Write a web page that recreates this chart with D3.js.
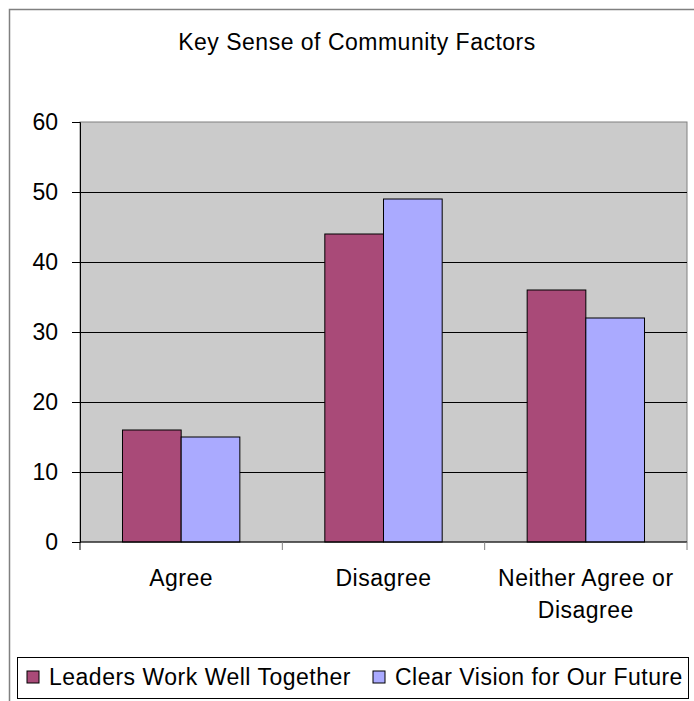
<!DOCTYPE html>
<html>
<head>
<meta charset="utf-8">
<script src="https://cdn.jsdelivr.net/npm/d3@7"></script>
<style>
  body { margin: 0; background: #fff; }
  text { font-family: "Liberation Sans", Arial, sans-serif; fill: #000; }
  .lbl { font-size: 23px; letter-spacing: 0.5px; }
</style>
</head>
<body>
<div id="wrapper"></div>
<script>
const categories = ["Agree", "Disagree", "Neither Agree or Disagree"]
const seriesNames = ["Leaders Work Well Together", "Clear Vision for Our Future"]
const leaders = [16, 44, 36]
const vision = [15, 49, 32]
const yTicks = [0, 10, 20, 30, 40, 50, 60]
const title = "Key Sense of Community Factors"

const colors = ["#a94a78", "#aaaaff"]

let dimensions = {
    width: 694,
    height: 701,
    margin: {
        top: 122,
        right: 7,
        bottom: 159,
        left: 80,
    },
}
dimensions.boundedWidth = dimensions.width
    - dimensions.margin.left
    - dimensions.margin.right
dimensions.boundedHeight = dimensions.height
    - dimensions.margin.top
    - dimensions.margin.bottom

const data = categories.map((c, i) => ({ cat: c, values: [leaders[i], vision[i]] }))

const svg = d3.select("#wrapper")
    .append("svg")
    .attr("width", dimensions.width)
    .attr("height", dimensions.height)

// outer chart border
svg.append("path")
    .attr("d", `M9.5,${dimensions.height} V9.5 H${dimensions.width}`)
    .attr("fill", "none")
    .attr("stroke", "#808080")
    .attr("stroke-width", 1.5)

svg.append("text")
    .attr("class", "lbl")
    .attr("x", 357)
    .attr("y", 50)
    .attr("text-anchor", "middle")
    .text(title)

const bounds = svg.append("g")
    .attr("transform", `translate(${dimensions.margin.left}, ${dimensions.margin.top})`)

const xScale = d3.scaleBand()
    .domain(categories)
    .range([0, dimensions.boundedWidth])

const gap = xScale.bandwidth() * 0.21
const xInner = d3.scaleBand()
    .domain(d3.range(seriesNames.length))
    .range([gap, xScale.bandwidth() - gap])

const yScale = d3.scaleLinear()
    .domain([0, 60])
    .range([dimensions.boundedHeight, 0])

// plot background
bounds.append("rect")
    .attr("width", dimensions.boundedWidth)
    .attr("height", dimensions.boundedHeight)
    .attr("fill", "#cbcbcb")
    .attr("stroke", "#808080")
    .attr("stroke-width", 1)

// gridlines
bounds.append("g")
    .call(d3.axisLeft(yScale).tickValues(yTicks.slice(1, -1)).tickSize(-dimensions.boundedWidth).tickFormat(""))
    .call(g => g.select(".domain").remove())
    .call(g => g.selectAll("line").attr("stroke", "#000"))

// bars
bounds.append("g")
    .selectAll("g")
    .data(data)
    .join("g")
    .attr("transform", d => `translate(${xScale(d.cat)}, 0)`)
    .selectAll("rect")
    .data(d => d.values)
    .join("rect")
    .attr("x", (d, i) => xInner(i))
    .attr("y", d => yScale(d))
    .attr("width", xInner.bandwidth())
    .attr("height", d => dimensions.boundedHeight - yScale(d))
    .attr("fill", (d, i) => colors[i])
    .attr("stroke", "#000")
    .attr("stroke-width", 1)

// y axis
const yAxis = bounds.append("g")
    .call(d3.axisLeft(yScale).tickValues(yTicks).tickSize(8).tickPadding(14))
yAxis.select(".domain").attr("stroke", "#000")
yAxis.selectAll("line").attr("stroke", "#000")
yAxis.selectAll("text")
    .style("font-size", "23px")
    .attr("font-family", null)

// x axis baseline and category ticks
const xAxis = bounds.append("g")
    .attr("transform", `translate(0, ${dimensions.boundedHeight})`)
xAxis.append("line")
    .attr("x1", 0)
    .attr("x2", dimensions.boundedWidth)
    .attr("stroke", "#000")
xAxis.selectAll(".tick")
    .data(categories.map(c => xScale(c)).concat([dimensions.boundedWidth]))
    .join("line")
    .attr("class", "tick")
    .attr("x1", d => d)
    .attr("x2", d => d)
    .attr("y1", 0)
    .attr("y2", 8)
    .attr("stroke", (d, i) => i === 0 ? "#000" : "#808080")

function wrapLines(label, maxWidth) {
    const words = label.split(" ")
    const lines = []
    let line = []
    const probe = svg.append("text").attr("class", "lbl")
    words.forEach(w => {
        line.push(w)
        probe.text(line.join(" "))
        if (probe.node().getComputedTextLength() > maxWidth && line.length > 1) {
            line.pop()
            lines.push(line.join(" "))
            line = [w]
        }
    })
    lines.push(line.join(" "))
    probe.remove()
    return lines
}

xAxis.selectAll(".cat-label")
    .data(categories)
    .join("text")
    .attr("class", "cat-label lbl")
    .attr("x", d => xScale(d) + xScale.bandwidth() / 2)
    .attr("y", 44)
    .attr("text-anchor", "middle")
    .each(function (d) {
        const lines = wrapLines(d, 195)
        d3.select(this).selectAll("tspan")
            .data(lines)
            .join("tspan")
            .attr("x", xScale(d) + xScale.bandwidth() / 2)
            .attr("dy", (l, i) => i === 0 ? 0 : 32)
            .text(l => l)
    })

// legend
const legend = svg.append("g")
legend.append("rect")
    .attr("x", 17.5)
    .attr("y", 657.5)
    .attr("width", 671)
    .attr("height", 41)
    .attr("fill", "#fff")
    .attr("stroke", "#000")

const legendX = [27, 373]
const items = legend.selectAll(".item")
    .data(seriesNames)
    .join("g")
    .attr("class", "item")
    .attr("transform", (d, i) => `translate(${legendX[i]}, 671)`)
items.append("rect")
    .attr("width", 12)
    .attr("height", 12)
    .attr("fill", (d, i) => colors[i])
    .attr("stroke", "#000")
items.append("text")
    .attr("class", "lbl")
    .attr("x", 22)
    .attr("y", 14)
    .text(d => d)
</script>
</body>
</html>
